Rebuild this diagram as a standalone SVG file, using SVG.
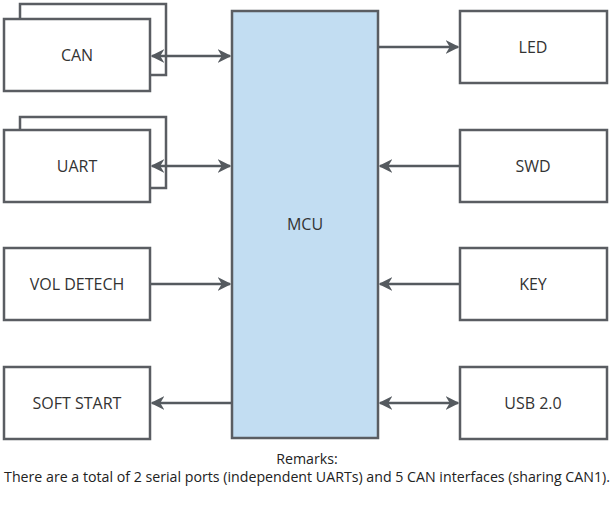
<svg xmlns="http://www.w3.org/2000/svg" width="614" height="513" viewBox="0 0 614 513">
<defs>
<marker id="ah" viewBox="0 0 10 10" refX="9" refY="5" markerWidth="5.5" markerHeight="5.5" orient="auto-start-reverse" markerUnits="strokeWidth">
<path d="M0,0 L10,5 L0,10 L3,5 Z" fill="#555a5f"/>
</marker>
</defs>
<style>
.box{fill:#fff;stroke:#5a5d62;stroke-width:2.5}
.mcu{fill:#c2ddf2;stroke:#5a5d62;stroke-width:2.5}
.lbl{font-family:"Open Sans","Noto Sans",sans-serif;font-size:16px;fill:#333;text-anchor:middle;dominant-baseline:central}
.note{font-family:"Open Sans","Noto Sans",sans-serif;font-size:14.2px;fill:#222;text-anchor:middle}
.c{stroke:#555a5f;stroke-width:2.5;fill:none}
</style>
<rect width="614" height="513" fill="#fff"/>
<g id="can"><rect class="box" x="20" y="4" width="146" height="71"/><rect class="box" x="4" y="19" width="146" height="72"/><text class="lbl" x="77" y="55">CAN</text></g>
<g id="uart"><rect class="box" x="20" y="117" width="146" height="71"/><rect class="box" x="4" y="130" width="146" height="72"/><text class="lbl" x="77" y="166">UART</text></g>
<g id="vol"><rect class="box" x="4" y="248" width="146" height="72"/><text class="lbl" x="77" y="284">VOL DETECH</text></g>
<g id="soft"><rect class="box" x="4" y="367" width="146" height="72"/><text class="lbl" x="77" y="403">SOFT START</text></g>
<g id="mcu"><rect class="mcu" x="232" y="11" width="146" height="427"/><text class="lbl" x="305" y="224">MCU</text></g>
<g id="led"><rect class="box" x="460" y="11" width="147" height="72"/><text class="lbl" x="533" y="47">LED</text></g>
<g id="swd"><rect class="box" x="460" y="130" width="147" height="72"/><text class="lbl" x="533" y="166">SWD</text></g>
<g id="key"><rect class="box" x="460" y="248" width="147" height="72"/><text class="lbl" x="533" y="284">KEY</text></g>
<g id="usb"><rect class="box" x="460" y="367" width="147" height="72"/><text class="lbl" x="533" y="403">USB 2.0</text></g>
<g id="connectors">
<line class="c" x1="152" y1="56" x2="230" y2="56" marker-start="url(#ah)" marker-end="url(#ah)"/>
<line class="c" x1="152" y1="166" x2="230" y2="166" marker-start="url(#ah)" marker-end="url(#ah)"/>
<line class="c" x1="151" y1="284" x2="230" y2="284" marker-end="url(#ah)"/>
<line class="c" x1="231" y1="403" x2="152" y2="403" marker-end="url(#ah)"/>
<line class="c" x1="379" y1="47" x2="458" y2="47" marker-end="url(#ah)"/>
<line class="c" x1="459" y1="166" x2="380" y2="166" marker-end="url(#ah)"/>
<line class="c" x1="459" y1="284" x2="380" y2="284" marker-end="url(#ah)"/>
<line class="c" x1="380" y1="403" x2="458" y2="403" marker-start="url(#ah)" marker-end="url(#ah)"/>
</g>
<text class="note" x="307" y="464">Remarks:</text>
<text class="note" x="307" y="482">There are a total of 2 serial ports (independent UARTs) and 5 CAN interfaces (sharing CAN1).</text>
</svg>
